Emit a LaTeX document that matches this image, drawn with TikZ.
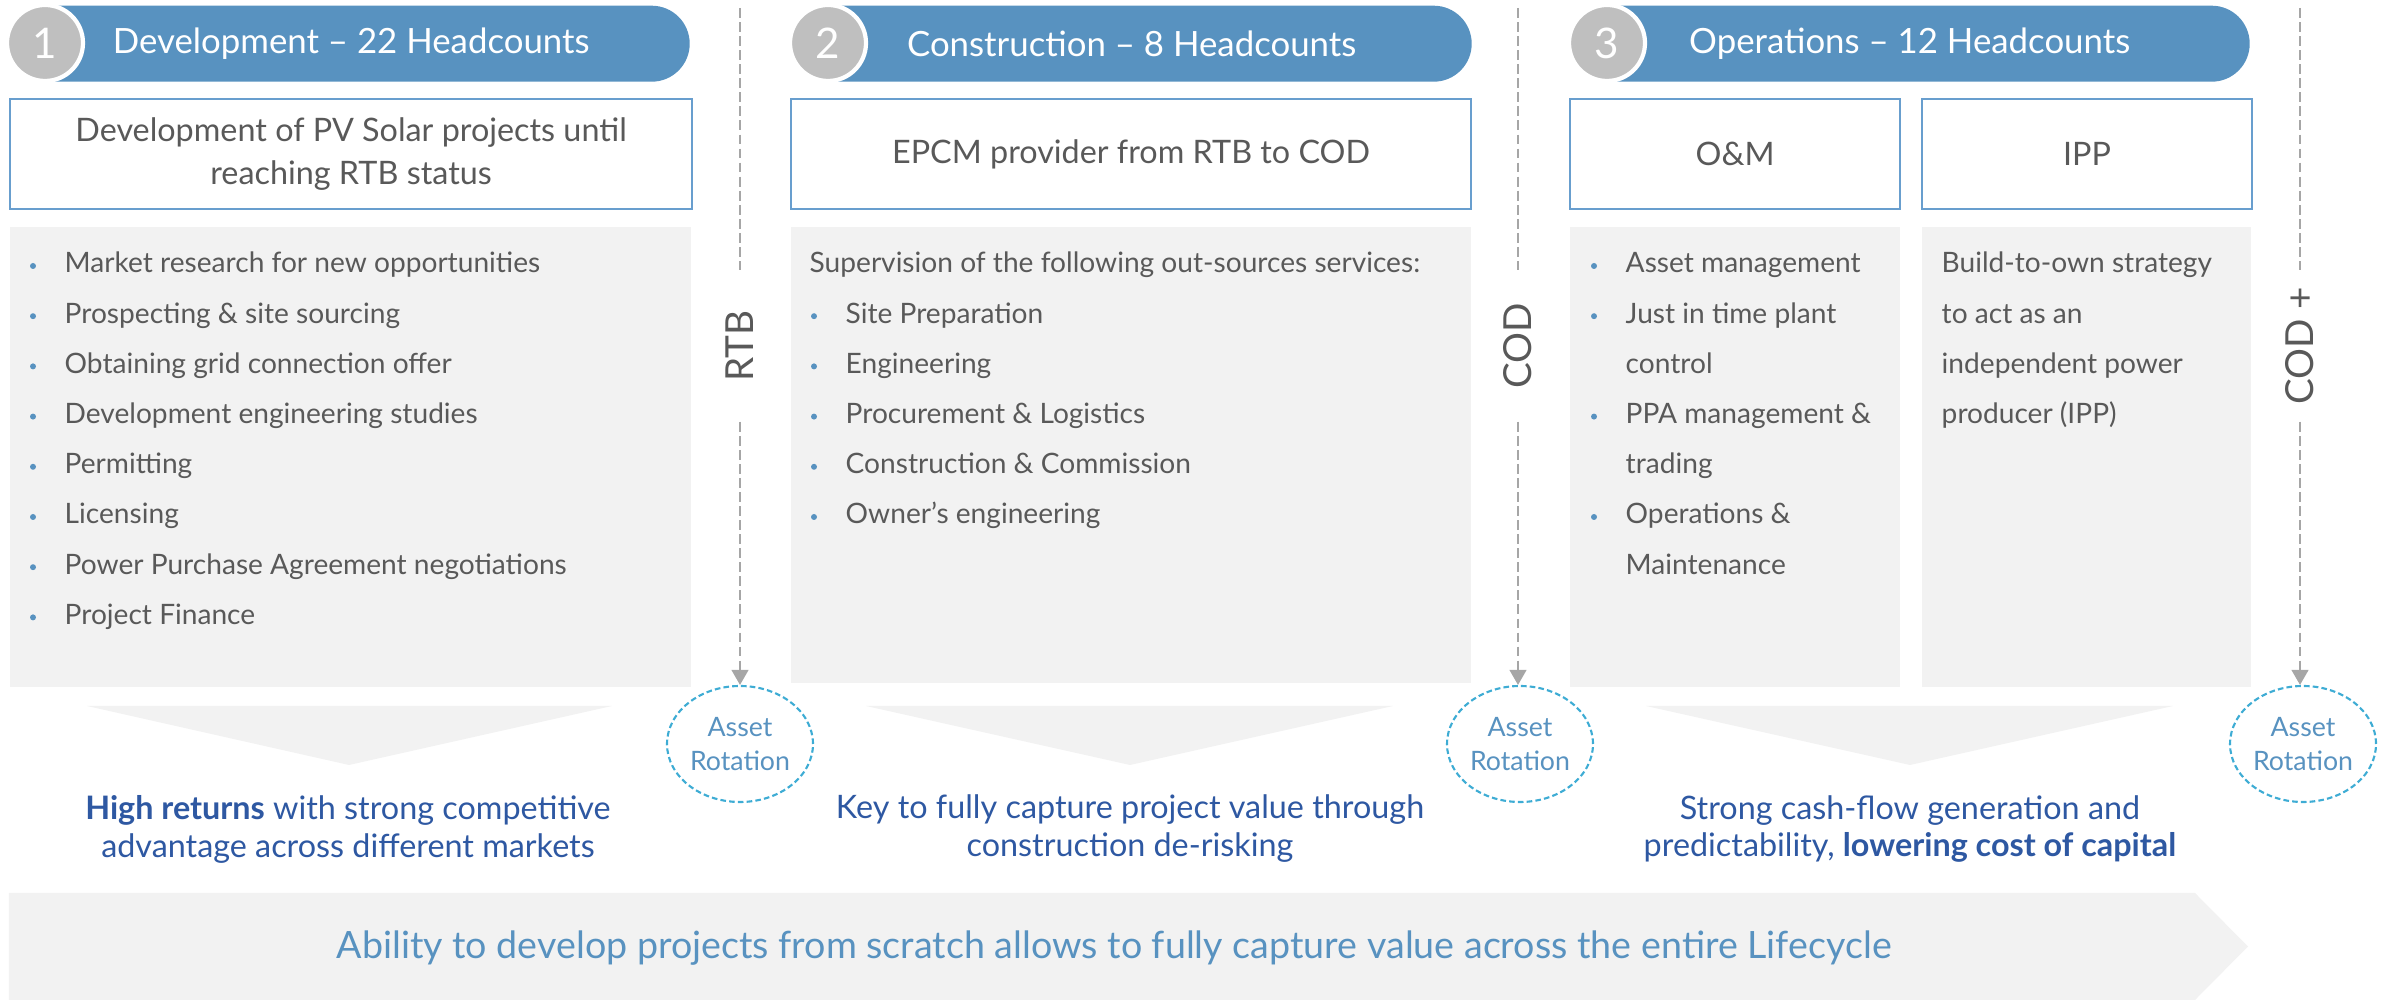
\documentclass[tikz,border=0pt]{standalone}
\usepackage{fontspec}
\setmainfont{Lato}
\usepackage{xcolor}
\usepackage{tikz}
\usetikzlibrary{shapes.geometric, arrows.meta, positioning, calc}

\definecolor{pillblue}{RGB}{88,146,192}
\definecolor{numgrey}{RGB}{191,191,191}
\definecolor{boxline}{RGB}{104,158,206}
\definecolor{textgrey}{RGB}{89,89,89}
\definecolor{panelgrey}{RGB}{242,242,242}
\definecolor{dashgrey}{RGB}{166,166,166}
\definecolor{rotcyan}{RGB}{62,172,212}
\definecolor{darkblue}{RGB}{46,88,162}

\begin{document}
\begin{tikzpicture}[
    % Node styles
    pill/.style={rectangle, rounded corners=0.38cm, fill=pillblue, minimum width=6.8cm, minimum height=0.76cm, anchor=north west, text=white, font=\fontsize{9.9}{12}\selectfont},
    numcircle/.style={circle, fill=numgrey, draw=white, line width=1.2pt, minimum size=0.76cm, inner sep=0pt, text=white, font=\fontsize{12}{14}\selectfont},
    titlebox/.style={rectangle, draw=boxline, line width=0.6pt, fill=white, minimum height=1.1cm, anchor=north west, align=center, text=textgrey, font=\fontsize{9.2}{12}\selectfont},
    panel/.style={rectangle, fill=panelgrey, minimum height=4.6cm, anchor=north west, inner sep=0pt},
    itemtext/.style={anchor=base west, inner sep=0pt, text=textgrey, font=\fontsize{8}{9.6}\selectfont},
    milestone/.style={rotate=90, minimum width=1.5cm, inner sep=0pt, text=textgrey, font=\fontsize{11}{13}\selectfont},
    rotation/.style={ellipse, draw=rotcyan, dash pattern=on 1.6pt off 0.9pt, line width=0.6pt, minimum width=1.46cm, minimum height=1.16cm, inner sep=0pt, align=center, text=pillblue, font=\fontsize{7.6}{9.8}\selectfont},
    statement/.style={align=center, text=darkblue, font=\fontsize{9.2}{10.8}\selectfont},
    mileline/.style={draw=dashgrey, line width=0.55pt, dash pattern=on 2.8pt off 1.2pt},
    arrow/.style={-{Triangle[length=4.3pt, width=4.8pt]}}
]
\useasboundingbox (0,0) rectangle (23.87,-10);

% Phase headers
\node[pill, minimum width=6.77cm] (head1) at (0.12,-0.05) {Development – 22 Headcounts};
\node[pill] (head2) at (7.91,-0.05) {Construction – 8 Headcounts};
\node[pill] (head3) at (15.69,-0.05) {Operations – 12 Headcounts};
\node[numcircle] (num1) at (0.45,-0.43) {1};
\node[numcircle] (num2) at (8.28,-0.43) {2};
\node[numcircle] (num3) at (16.07,-0.43) {3};

% Scope boxes
\node[titlebox, minimum width=6.82cm] (scope1) at (0.09,-0.98) {Development of PV Solar projects until\\reaching RTB status};
\node[titlebox, minimum width=6.80cm] (scope2) at (7.90,-0.98) {EPCM provider from RTB to COD};
\node[titlebox, minimum width=3.30cm] (scope3a) at (15.69,-0.98) {O\&M};
\node[titlebox, minimum width=3.30cm] (scope3b) at (19.21,-0.98) {IPP};

% Grey panels
\node[panel, minimum width=6.81cm] (panel1) at (0.09,-2.26) {};
\node[panel, minimum width=6.80cm, minimum height=4.56cm] (panel2) at (7.90,-2.26) {};
\node[panel, minimum width=3.30cm] (panel3a) at (15.69,-2.26) {};
\node[panel, minimum width=3.29cm] (panel3b) at (19.21,-2.26) {};

% Development items
\foreach \txt [count=\i from 0] in {Market research for new opportunities, Prospecting \& site sourcing, Obtaining grid connection offer, Development engineering studies, Permitting, Licensing, Power Purchase Agreement negotiations, Project Finance}{
    \fill[pillblue] (0.33,{-2.66-0.502*\i}) circle (0.03);
    \node[itemtext] (dev\i) at (0.64,{-2.73-0.502*\i}) {\txt};
}

% Construction items
\node[itemtext] (supervision) at (8.09,-2.73) {Supervision of the following out-sources services:};
\foreach \txt [count=\i] in {Site Preparation, Engineering, Procurement \& Logistics, Construction \& Commission, Owner’s engineering}{
    \fill[pillblue] (8.14,{-2.66-0.502*\i}) circle (0.03);
    \node[itemtext] (con\i) at (8.45,{-2.73-0.502*\i}) {\txt};
}

% Operations items
\foreach \txt [count=\i from 0] in {Asset management, Just in time plant, control, PPA management \&, trading, Operations \&, Maintenance}
    \node[itemtext] (om\i) at (16.25,{-2.73-0.502*\i}) {\txt};
\foreach \i in {0,1,3,5}
    \fill[pillblue] (15.94,{-2.66-0.502*\i}) circle (0.03);
\foreach \txt [count=\i from 0] in {Build-to-own strategy, to act as an, independent power, producer (IPP)}
    \node[itemtext] (ipp\i) at (19.41,{-2.73-0.502*\i}) {\txt};

% Milestones
\node[milestone] (rtb) at (7.40,-3.46) {RTB};
\node[milestone] (cod) at (15.18,-3.46) {COD};
\node[milestone] (codplus) at (23.00,-3.46) {COD +};
\node[rotation] (rot1) at (7.40,-7.44) {Asset\\Rotation};
\node[rotation] (rot2) at (15.20,-7.44) {Asset\\Rotation};
\node[rotation] (rot3) at (23.03,-7.44) {Asset\\Rotation};
\coordinate (top1) at (7.40,-0.08);
\coordinate (top2) at (15.18,-0.08);
\coordinate (top3) at (23.00,-0.08);

\draw[mileline] (top1) -- (rtb.east);
\draw[mileline, arrow] (rtb.west) -- (rtb.west |- rot1.north);
\draw[mileline] (top2) -- (cod.east);
\draw[mileline, arrow] (cod.west) -- (cod.west |- rot2.north);
\draw[mileline] (top3) -- (codplus.east);
\draw[mileline, arrow] (codplus.west) -- (codplus.west |- rot3.north);

% Down chevrons
\fill[panelgrey] (0.87,-7.06) -- (6.12,-7.06) -- (3.49,-7.65) -- cycle;
\fill[panelgrey] (8.66,-7.06) -- (13.93,-7.06) -- (11.30,-7.65) -- cycle;
\fill[panelgrey] (16.46,-7.06) -- (21.73,-7.06) -- (19.10,-7.65) -- cycle;

% Value statements
\node[statement] (stmt1) at (3.48,-8.29) {\textbf{High returns} with strong competitive\\advantage across different markets};
\node[statement] (stmt2) at (11.30,-8.29) {Key to fully capture project value through\\construction de-risking};
\node[statement] (stmt3) at (19.10,-8.29) {Strong cash-flow generation and\\predictability, \textbf{lowering cost of capital}};

% Lifecycle arrow
\fill[panelgrey] (0.09,-8.93) -- (21.95,-8.93) -- (22.48,-9.465) -- (21.95,-10) -- (0.09,-10) -- cycle;
\node[text=pillblue, font=\fontsize{10.7}{12}\selectfont] (lifecycle) at (11.14,-9.48) {Ability to develop projects from scratch allows to fully capture value across the entire Lifecycle};

\end{tikzpicture}
\end{document}
